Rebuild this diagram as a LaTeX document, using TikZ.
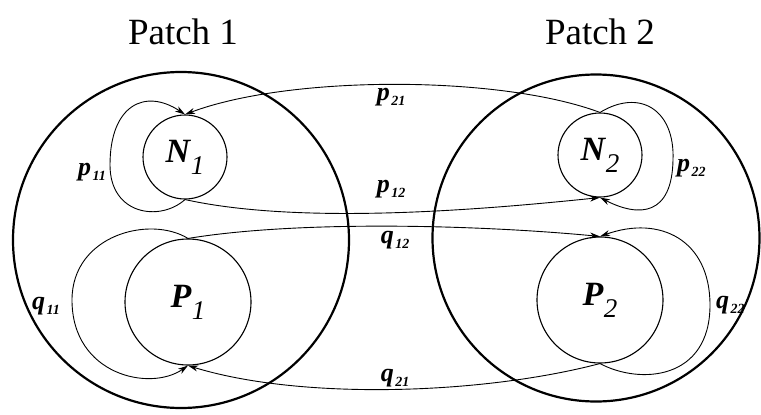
\documentclass[tikz,border=0pt]{standalone}
\usepackage{fontspec}
\setmainfont{Liberation Serif}
\usetikzlibrary{arrows.meta}
\newcommand{\lbl}[2]{{\bfseries\itshape #1}\kern1.5pt\raisebox{-0.45ex}{\fontsize{14}{14}\selectfont\bfseries\itshape #2}}
\newcommand{\poplbl}[2]{{\bfseries\itshape #1}\kern0.5pt\raisebox{-12pt}{\fontsize{27}{27}\selectfont\itshape #2}}
\begin{document}
\begin{tikzpicture}[x=1pt,y=-1pt,
  patch/.style={draw,circle,line width=2.2pt,inner sep=0pt},
  pop/.style={draw,circle,line width=1.1pt,inner sep=0pt,font=\fontsize{34}{34}\selectfont},
  flow/.style={line width=0.9pt,-{Stealth[length=10pt,width=6pt,inset=3pt]}},
  lab/.style={font=\fontsize{26}{26}\selectfont,inner sep=1pt},
  ttl/.style={font=\fontsize{37}{37}\selectfont,inner sep=0pt}]
\useasboundingbox (0,0) rectangle (761,415);
\node[patch,minimum size=336pt] (C1) at (181,240) {};
\node[patch,minimum size=327pt] (C2) at (596,238) {};
\node[ttl] (T1) at (183,32) {Patch 1};
\node[ttl] (T2) at (600,32) {Patch 2};
\node[pop,minimum size=84pt] (N1) at (185,157) {\poplbl{N}{1}};
\node[pop,minimum size=126pt] (P1) at (188,302) {\poplbl{P}{1}};
\node[pop,minimum size=84pt] (N2) at (600,155) {\poplbl{N}{2}};
\node[pop,minimum size=126pt] (P2) at (600,300) {\poplbl{P}{2}};
% self loops
\draw[flow] (N1.south) .. controls (160,222) and (110,215) .. (110,165) .. controls (110,105) and (145,88) .. (N1.north);
\draw[flow] (P1.north) .. controls (150,215) and (72,235) .. (72,300) .. controls (72,375) and (150,392) .. (P1.south);
\draw[flow] (N2.north) .. controls (640,88) and (675,110) .. (673,160) .. controls (672,215) and (640,218) .. (N2.south);
\draw[flow] (P2.south) .. controls (640,385) and (710,380) .. (710,305) .. controls (710,240) and (660,215) .. (P2.north);
% cross flows
\draw[flow] (N2.north) .. controls (500,75) and (290,75) .. (N1.north);
\draw[flow] (N1.south) .. controls (300,225) and (480,210) .. (N2.south);
\draw[flow] (P1.north) .. controls (300,220) and (480,225) .. (P2.north);
\draw[flow] (P2.south) .. controls (480,395) and (300,400) .. (P1.south);
% labels
\node[lab] (l11) at (92,172) {\lbl{p}{11}};
\node[lab] (m11) at (46,306) {\lbl{q}{11}};
\node[lab,anchor=west] (l22) at (676,168) {\lbl{p}{22}};
\node[lab,anchor=west] (m22) at (715,305) {\lbl{q}{22}};
\node[lab] (l21) at (391,97) {\lbl{p}{21}};
\node[lab] (l12) at (391,189) {\lbl{p}{12}};
\node[lab] (m12) at (395,240) {\lbl{q}{12}};
\node[lab] (m21) at (395,378) {\lbl{q}{21}};
\end{tikzpicture}
\end{document}
